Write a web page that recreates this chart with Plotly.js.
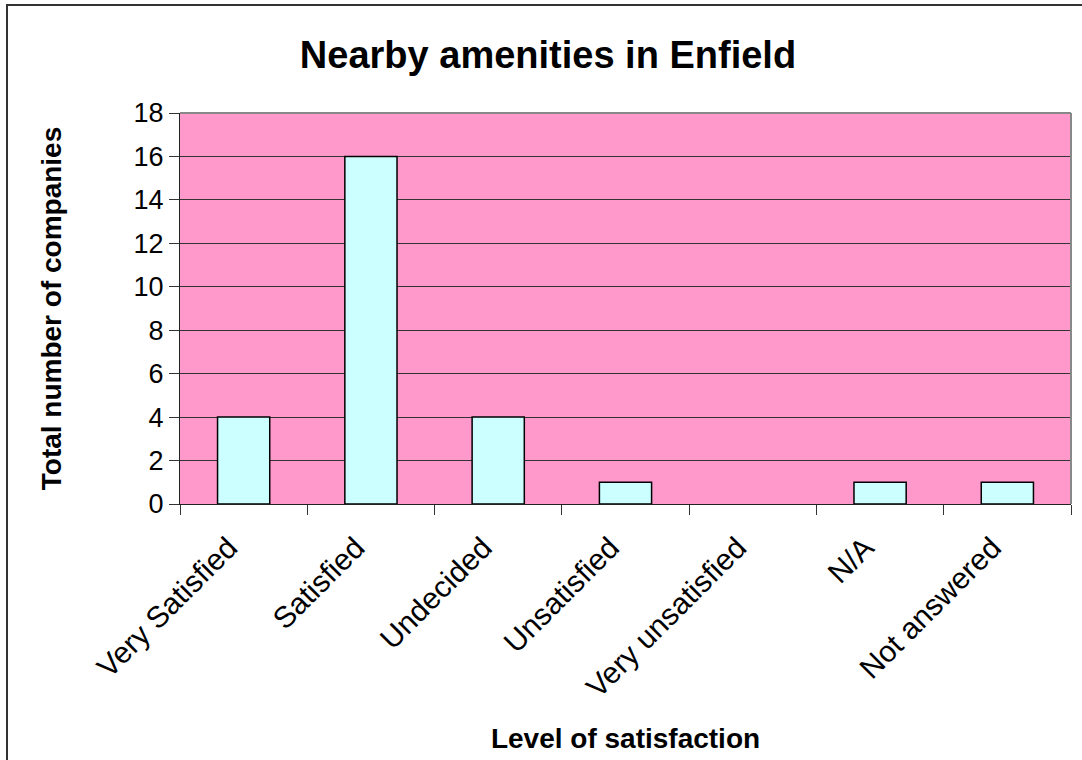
<!DOCTYPE html>
<html>
<head>
<meta charset="utf-8">
<script src="https://cdn.plot.ly/plotly-3.0.1.min.js"></script>
<style>
  html, body { margin: 0; padding: 0; background: #fff; }
  #wrap { position: relative; width: 1082px; height: 760px; overflow: hidden; }
  #chart { width: 1082px; height: 760px; }
  #frame { position: absolute; left: 6px; top: 4px; width: 1100px; height: 800px;
           border-left: 2px solid #333; border-top: 2px solid #333; pointer-events: none; }
</style>
</head>
<body>
<div id="wrap">
  <div id="chart"></div>
  <div id="frame"></div>
</div>
<script>
const categories = ["Very Satisfied", "Satisfied", "Undecided", "Unsatisfied", "Very unsatisfied", "N/A", "Not answered"];
const companies = [4, 16, 4, 1, 0, 1, 1];
const yTicks = [0, 2, 4, 6, 8, 10, 12, 14, 16, 18];

const FONT = "Liberation Sans, Arial, sans-serif";

const trace = {
  type: "bar",
  x: categories,
  y: companies,
  marker: {
    color: "#CCFFFF",
    line: { color: "#000000", width: companies.map(v => (v > 0 ? 1.5 : 0)) }
  },
  hoverinfo: "x+y"
};

const layout = {
  width: 1082,
  height: 760,
  margin: { l: 180, r: 11, t: 113, b: 256, pad: 0 },
  paper_bgcolor: "#FFFFFF",
  plot_bgcolor: "#FF99CC",
  showlegend: false,
  bargap: 0.59,
  title: {
    text: "<b>Nearby amenities in Enfield</b>",
    font: { family: FONT, size: 38, color: "#000" },
    xref: "container", x: 548 / 1082, xanchor: "center",
    yref: "container", y: 1 - 55 / 760, yanchor: "middle"
  },
  xaxis: {
    type: "category",
    tickson: "boundaries",
    ticks: "outside",
    ticklen: 10,
    tickcolor: "#333",
    tickwidth: 1,
    tickangle: -45,
    ticklabelstandoff: 13,
    ticklabelshift: -15,
    tickfont: { family: FONT, size: 30, color: "#000" },
    showline: true,
    linecolor: "#222",
    linewidth: 1,
    showgrid: false,
    automargin: false,
    fixedrange: true,
    title: {
      text: "<b>Level of satisfaction</b>",
      font: { family: FONT, size: 28, color: "#000" },
      standoff: 25
    }
  },
  yaxis: {
    range: [0, 18],
    tickvals: yTicks,
    ticktext: yTicks.map(String),
    ticks: "outside",
    ticklen: 10,
    tickcolor: "#333",
    tickwidth: 1,
    tickfont: { family: FONT, size: 27, color: "#000" },
    showline: true,
    linecolor: "#222",
    linewidth: 1,
    showgrid: true,
    gridcolor: "#333",
    gridwidth: 1,
    zeroline: false,
    automargin: false,
    fixedrange: true,
    title: {
      text: "<b>Total number of companies</b>",
      font: { family: FONT, size: 28, color: "#000" },
      standoff: 63
    }
  },
  shapes: [
    { type: "line", xref: "paper", yref: "paper", x0: 0, x1: 1, y0: 1, y1: 1,
      line: { color: "#888888", width: 2 }, layer: "above" },
    { type: "line", xref: "paper", yref: "paper", x0: 1, x1: 1, y0: 0, y1: 1,
      line: { color: "#888888", width: 2 }, layer: "above" }
  ]
};

Plotly.newPlot("chart", [trace], layout, { displayModeBar: false });
</script>
</body>
</html>
